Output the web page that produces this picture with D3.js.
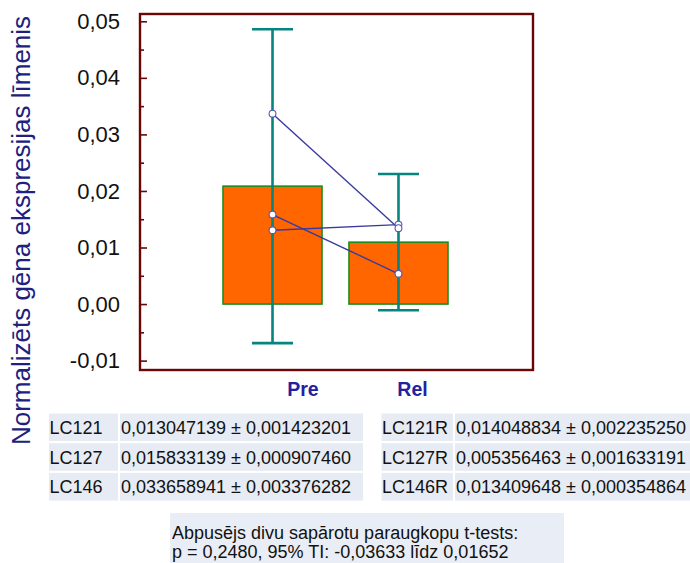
<!DOCTYPE html>
<html>
<head>
<meta charset="utf-8">
<script src="https://cdn.jsdelivr.net/npm/d3@7"></script>
<style>
  body { margin: 0; background: #fff; }
  svg { display: block; font-family: "Liberation Sans", Arial, sans-serif; }
</style>
</head>
<body>
<div id="chart"></div>
<script>
// groups
let categories = ['Pre', 'Rel'];
// bar = group mean, whiskers = 95% CI
let barMeans = [0.02085, 0.01094];
let ciLow = [-0.0069, -0.0011];
let ciHigh = [0.0486, 0.0230];

// paired samples
let preNames = ['LC121', 'LC127', 'LC146'];
let preValues = [0.013047139, 0.015833139, 0.033658941];
let preErr = [0.001423201, 0.000907460, 0.003376282];
let relNames = ['LC121R', 'LC127R', 'LC146R'];
let relValues = [0.014048834, 0.005356463, 0.013409648];
let relErr = [0.002235250, 0.001633191, 0.000354864];

let yTicks = [-0.01, 0, 0.01, 0.02, 0.03, 0.04, 0.05];
let yMinorTicks = [-0.005, 0.005, 0.015, 0.025, 0.035, 0.045];

let yTitle = 'Normalizēts gēna ekspresijas līmenis';
let noteLines = ['Abpusējs divu sapārotu paraugkopu t-tests:',
                 'p = 0,2480, 95% TI: -0,03633 līdz 0,01652'];

function ready(fn) {
  if (document.readyState != 'loading') { fn(); }
  else { document.addEventListener('DOMContentLoaded', fn); }
}
ready(main);

function fmt(v, d) { return v.toFixed(d).replace('.', ','); }

function main() {
  let W = 690, H = 563;
  let frame = {left: 140, top: 14, right: 533, bottom: 370};
  let frameCol = '#6b0606';
  let navy = '#20207e';

  let svg = d3.select('#chart').append('svg').attr('width', W).attr('height', H);

  let y = d3.scaleLinear().domain([-0.01166, 0.05129]).range([frame.bottom, frame.top]);
  let x = d3.scaleBand().domain(categories).range([223, 448]).paddingInner(0.214).paddingOuter(0);
  let labelX = d3.scalePoint().domain(categories).range([303, 412.5]);
  let cx = d => x(d) + x.bandwidth() / 2;

  // bars
  svg.append('g').selectAll('rect')
    .data(categories)
    .join('rect')
    .attr('x', d => x(d))
    .attr('y', (d, i) => y(barMeans[i]))
    .attr('width', x.bandwidth())
    .attr('height', (d, i) => y(0) - y(barMeans[i]))
    .attr('fill', '#ff6600')
    .attr('stroke', '#1e8c1e')
    .attr('stroke-width', 1.6);

  // error bars
  let eb = svg.append('g').attr('stroke', '#06847f').attr('stroke-width', 2.6);
  categories.forEach(function(c, i) {
    eb.append('line').attr('x1', cx(c)).attr('x2', cx(c))
      .attr('y1', y(ciHigh[i])).attr('y2', y(ciLow[i]));
    [ciHigh[i], ciLow[i]].forEach(function(v) {
      eb.append('line').attr('x1', cx(c) - 20.5).attr('x2', cx(c) + 20.5)
        .attr('y1', y(v)).attr('y2', y(v));
    });
  });

  // paired lines
  let pairs = preValues.map((v, i) => [v, relValues[i]]);
  svg.append('g').selectAll('line')
    .data(pairs)
    .join('line')
    .attr('x1', cx('Pre')).attr('x2', cx('Rel'))
    .attr('y1', d => y(d[0])).attr('y2', d => y(d[1]))
    .attr('stroke', '#3a3a9e')
    .attr('stroke-width', 1.4);

  let dots = [];
  preValues.forEach(v => dots.push({c: 'Pre', v: v}));
  relValues.forEach(v => dots.push({c: 'Rel', v: v}));
  svg.append('g').selectAll('circle')
    .data(dots)
    .join('circle')
    .attr('cx', d => cx(d.c))
    .attr('cy', d => y(d.v))
    .attr('r', 3.4)
    .attr('fill', '#fff')
    .attr('stroke', '#5656b4')
    .attr('stroke-width', 1.1);

  // frame
  svg.append('rect')
    .attr('x', frame.left).attr('y', frame.top)
    .attr('width', frame.right - frame.left).attr('height', frame.bottom - frame.top)
    .attr('fill', 'none').attr('stroke', frameCol).attr('stroke-width', 2.4);

  // y axis, ticks point inward
  let yAxis = svg.append('g')
    .attr('transform', `translate(${frame.left},0)`)
    .call(d3.axisLeft(y).tickValues(yTicks).tickSizeInner(-7).tickSizeOuter(0)
      .tickPadding(20).tickFormat(v => fmt(v, 2)));
  yAxis.select('.domain').remove();
  yAxis.selectAll('line').attr('stroke', frameCol).attr('stroke-width', 1.6);
  yAxis.selectAll('text').attr('font-size', 22).attr('fill', '#111')
    .attr('font-family', '"Liberation Sans", Arial, sans-serif');

  let yMinor = svg.append('g')
    .attr('transform', `translate(${frame.left},0)`)
    .call(d3.axisLeft(y).tickValues(yMinorTicks).tickSizeInner(-4).tickSizeOuter(0).tickFormat(''));
  yMinor.select('.domain').remove();
  yMinor.selectAll('line').attr('stroke', frameCol).attr('stroke-width', 1.6);

  // y title
  svg.append('text')
    .attr('transform', 'translate(30,230.5) rotate(-90)')
    .attr('text-anchor', 'middle')
    .attr('font-size', 26)
    .attr('fill', navy)
    .text(yTitle);

  // category labels
  svg.append('g').selectAll('text')
    .data(categories)
    .join('text')
    .attr('x', d => labelX(d))
    .attr('y', 396)
    .attr('text-anchor', 'middle')
    .attr('font-size', 19.5)
    .attr('font-weight', 'bold')
    .attr('fill', '#2222a0')
    .text(d => d);

  // tables
  function table(names, vals, errs, x0, xSep, x1) {
    let g = svg.append('g');
    let rowTop = 412.5, rowH = 29.7;
    names.forEach(function(n, i) {
      let ty = rowTop + i * rowH;
      g.append('rect').attr('x', x0).attr('y', ty).attr('width', xSep - x0).attr('height', rowH)
        .attr('fill', '#e7ebf3').attr('stroke', '#fff').attr('stroke-width', 2);
      g.append('rect').attr('x', xSep).attr('y', ty).attr('width', x1 - xSep).attr('height', rowH)
        .attr('fill', '#e7ebf3').attr('stroke', '#fff').attr('stroke-width', 2);
      g.append('text').attr('x', x0 + 1.5).attr('y', ty + rowH / 2 + 6.5)
        .attr('font-size', 18).attr('fill', '#111').text(n);
      g.append('text').attr('x', xSep + 2).attr('y', ty + rowH / 2 + 6.5)
        .attr('font-size', 18).attr('fill', '#111')
        .text(fmt(vals[i], 9) + ' ± ' + fmt(errs[i], 9));
    });
  }
  table(preNames, preValues, preErr, 48, 119, 364);
  table(relNames, relValues, relErr, 380.5, 454, 692);

  // t-test note
  svg.append('rect').attr('x', 170).attr('y', 513).attr('width', 394).attr('height', 52)
    .attr('fill', '#e9edf5');
  svg.append('g').selectAll('text')
    .data(noteLines)
    .join('text')
    .attr('x', 172)
    .attr('y', (d, i) => 539 + i * 19)
    .attr('font-size', 18)
    .attr('fill', '#111')
    .text(d => d);
}
</script>
</body>
</html>
